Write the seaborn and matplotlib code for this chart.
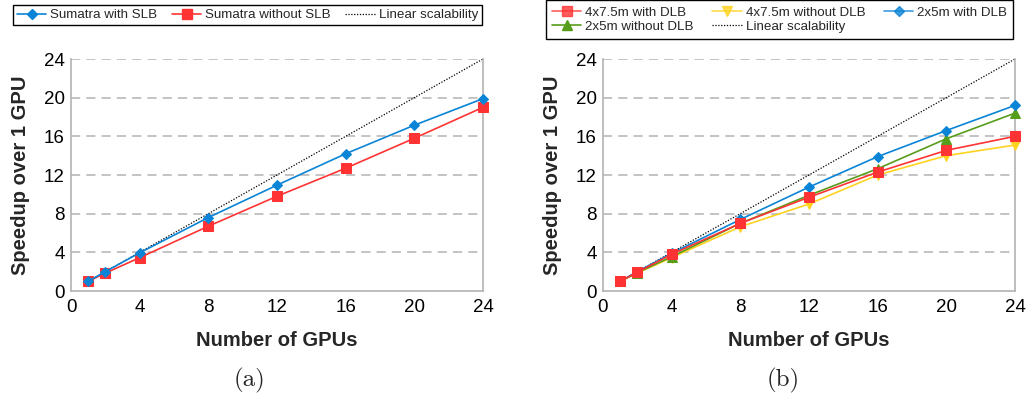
import numpy as np
import pandas as pd
import seaborn as sns
import matplotlib.pyplot as plt
from matplotlib.lines import Line2D

# GPU counts (same for both panels)
gpus = [1, 2, 4, 8, 12, 16, 20, 24]
linear = [1, 2, 4, 8, 12, 16, 20, 24]

# (a) Sumatra
sumatra_slb = [1.0, 2.0, 3.95, 7.6, 10.95, 14.2, 17.15, 19.9]
sumatra_noslb = [1.0, 1.85, 3.45, 6.7, 9.8, 12.7, 15.8, 19.0]

# (b) DLB runs
m75_dlb = [1.0, 1.95, 3.8, 7.0, 9.7, 12.3, 14.55, 16.0]
m75_nodlb = [1.0, 1.85, 3.45, 6.65, 9.0, 12.0, 14.0, 15.1]
m5_dlb = [1.0, 2.0, 3.9, 7.4, 10.75, 13.9, 16.6, 19.2]
m5_nodlb = [1.0, 1.9, 3.55, 7.0, 9.9, 12.65, 15.75, 18.4]

ticks = [0, 4, 8, 12, 16, 20, 24]

BLUE = '#0a84d6'
RED = '#ff3333'
YELLOW = '#ffd320'
GREEN = '#579d1c'
GRAY = '#b3b3b3'

sns.set_theme(style='white')
plt.rcParams['font.family'] = ['Liberation Sans', 'DejaVu Sans']

fig = plt.figure(figsize=(10.32, 4), dpi=100)
ax1 = fig.add_axes([0.0688, 0.2725, 0.3992, 0.58])
ax2 = fig.add_axes([0.5843, 0.2725, 0.3992, 0.58])


def series(ax, y, color, marker, ms, label):
    sns.lineplot(x=gpus, y=y, ax=ax, color=color, marker=marker, markersize=ms,
                 markeredgecolor=color, linewidth=1.2, label=label, legend=False,
                 clip_on=False, zorder=3)


def linear_line(ax):
    sns.lineplot(x=gpus, y=linear, ax=ax, color='black', linestyle=(0, (1, 1.3)),
                 linewidth=0.9, label='Linear scalability', legend=False,
                 clip_on=False, zorder=2)


# panel (a)
linear_line(ax1)
series(ax1, sumatra_noslb, RED, 's', 7.5, 'Sumatra without SLB')
series(ax1, sumatra_slb, BLUE, 'D', 5.5, 'Sumatra with SLB')

# panel (b)
linear_line(ax2)
series(ax2, m75_nodlb, YELLOW, 'v', 7, '4x7.5m without DLB')
series(ax2, m5_nodlb, GREEN, '^', 7, '2x5m without DLB')
series(ax2, m5_dlb, BLUE, 'D', 5.5, '2x5m with DLB')
series(ax2, m75_dlb, RED, 's', 7.5, '4x7.5m with DLB')

for ax in (ax1, ax2):
    ax.set_xlim(0, 24)
    ax.set_ylim(0, 24)
    ax.set_xticks(ticks)
    ax.set_yticks(ticks)
    ax.set_xticklabels([str(t) for t in ticks])
    ax.set_yticklabels([str(t) for t in ticks])
    ax.grid(False)
    for t in ticks[1:]:
        ax.axhline(t, color=GRAY, linewidth=1.1, linestyle=(0, (6, 4)), zorder=0)
    for s in ('left', 'bottom', 'right'):
        ax.spines[s].set_color(GRAY)
        ax.spines[s].set_linewidth(1.2)
    ax.spines['top'].set_visible(False)
    ax.tick_params(axis='both', which='both', direction='out', length=3, width=1,
                   color=GRAY, labelsize=13.5, labelcolor='black', pad=1.5)
    ax.tick_params(axis='x', pad=2.5)
    ax.tick_params(axis='y', right=False)
    ax.set_xlabel('Number of GPUs', fontsize=14.5, fontweight='bold', labelpad=11)
    ax.set_ylabel('Speedup over 1 GPU', fontsize=14.5, fontweight='bold', labelpad=10)

# legends
h1 = [Line2D([], [], color=BLUE, marker='D', markersize=5.5, lw=1.2),
      Line2D([], [], color=RED, marker='s', markersize=7.5, lw=1.2),
      Line2D([], [], color='black', linestyle=(0, (1, 1.3)), lw=0.9)]
l1 = ['Sumatra with SLB', 'Sumatra without SLB', 'Linear scalability']
leg1 = fig.legend(h1, l1, loc='upper left', bbox_to_anchor=(0.0126, 0.9875), ncol=3,
                  fontsize=9.6, frameon=True, fancybox=False, framealpha=1,
                  edgecolor='black', borderaxespad=0, borderpad=0.3,
                  handlelength=2.2, handletextpad=0.3, columnspacing=1.08)
leg1.get_frame().set_linewidth(1.0)

hA = Line2D([], [], color=RED, marker='s', markersize=7.5, lw=1.2, alpha=0.8)
hB = Line2D([], [], color=YELLOW, marker='v', markersize=7, lw=1.2, alpha=0.8)
hC = Line2D([], [], color=BLUE, marker='D', markersize=5.5, lw=1.2, alpha=0.8)
hD = Line2D([], [], color=GREEN, marker='^', markersize=7, lw=1.2)
hE = Line2D([], [], color='black', linestyle=(0, (1, 1.3)), lw=0.9)
# column-major order so rows read A B C / D E
h2 = [hA, hD, hB, hE, hC]
l2 = ['4x7.5m with DLB', '2x5m without DLB', '4x7.5m without DLB',
      'Linear scalability', '2x5m with DLB']
leg2 = fig.legend(h2, l2, loc='upper left', bbox_to_anchor=(0.529, 0.999), ncol=3,
                  fontsize=9.6, frameon=True, fancybox=False, framealpha=1,
                  edgecolor='black', borderaxespad=0, borderpad=0.45,
                  labelspacing=0.12, handlelength=2.2, handletextpad=0.3,
                  columnspacing=1.4)
leg2.get_frame().set_linewidth(1.0)

# captions
fig.text(250 / 1032, 1 - 380 / 400, '(a)', fontsize=18, family='cmr10',
         ha='center', va='center')
fig.text(783 / 1032, 1 - 380 / 400, '(b)', fontsize=18, family='cmr10',
         ha='center', va='center')

fig.savefig('out.png', dpi=100)
